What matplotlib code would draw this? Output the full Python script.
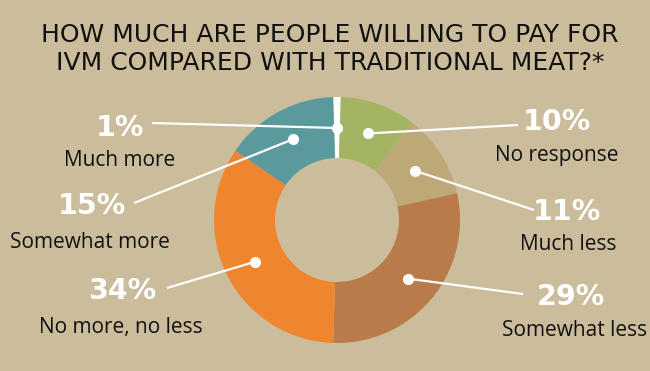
import numpy as np
import matplotlib
matplotlib.use("Agg")
import matplotlib.pyplot as plt

# ---- data ----
categories = ["Much more", "No response", "Much less", "Somewhat less",
              "No more, no less", "Somewhat more"]
values = [1, 10, 11, 29, 34, 15]
pct_labels = ["1%", "10%", "11%", "29%", "34%", "15%"]
title_lines = ["HOW MUCH ARE PEOPLE WILLING TO PAY FOR",
               "IVM COMPARED WITH TRADITIONAL MEAT?*"]

colors = ["#FFFFFF", "#A3B562", "#BDA878", "#B87B49", "#F0852F", "#5A9A9C"]
BG = "#CBBD9B"

W, H = 650, 371
fig = plt.figure(figsize=(6.5, 3.71), dpi=100, facecolor=BG)
ax = fig.add_axes([0, 0, 1, 1])
ax.set_xlim(0, W)
ax.set_ylim(0, H)
ax.set_aspect("equal")
ax.axis("off")
ax.set_facecolor(BG)

def Y(y):
    return H - y

cx, cy = 337, Y(220)
R, r_in = 123, 62
start = 90 + values[0] * 3.6 / 2
wedges, _ = ax.pie(values, colors=colors, startangle=start, counterclock=False,
                   radius=R, center=(cx, cy),
                   wedgeprops=dict(width=R - r_in, linewidth=0))
ax.set_xlim(0, W)
ax.set_ylim(0, H)

# label anchors (pixel positions, y down)
line_end = [(152, 123), (518, 125), (534, 210), (523, 294), (167, 288), (134, 203)]
pct_pos = [(120, 128), (557, 122), (567, 212), (571, 297), (122, 291), (92, 206)]
cat_pos = [(120, 161), (557, 156), (568, 244), (575, 330), (121, 327), (90, 242)]

r_dot = 92
for i, w in enumerate(wedges):
    mid = np.deg2rad((w.theta1 + w.theta2) / 2)
    dx, dy = cx + r_dot * np.cos(mid), cy + r_dot * np.sin(mid)
    ex, ey = line_end[i]
    ax.plot([dx, ex], [dy, Y(ey)], color="white", lw=1.6, solid_capstyle="butt", zorder=5)
    ax.plot([dx], [dy], "o", color="white", ms=7, zorder=6)
    px, py = pct_pos[i]
    ax.text(px, Y(py), pct_labels[i], color="white", fontsize=20.5, fontweight="heavy",
            family=["DejaVu Sans"], ha="center", va="center")
    qx, qy = cat_pos[i]
    ax.text(qx, Y(qy), categories[i], color="#111111", fontsize=15,
            family=["Open Sans", "DejaVu Sans"], ha="center", va="center")

for k, line in enumerate(title_lines):
    ax.text(330, Y(35 + k * 28.5), line, color="#111111", fontsize=18,
            family=["DejaVu Sans"], ha="center", va="center")

fig.savefig("out.png", dpi=100, facecolor=BG)
